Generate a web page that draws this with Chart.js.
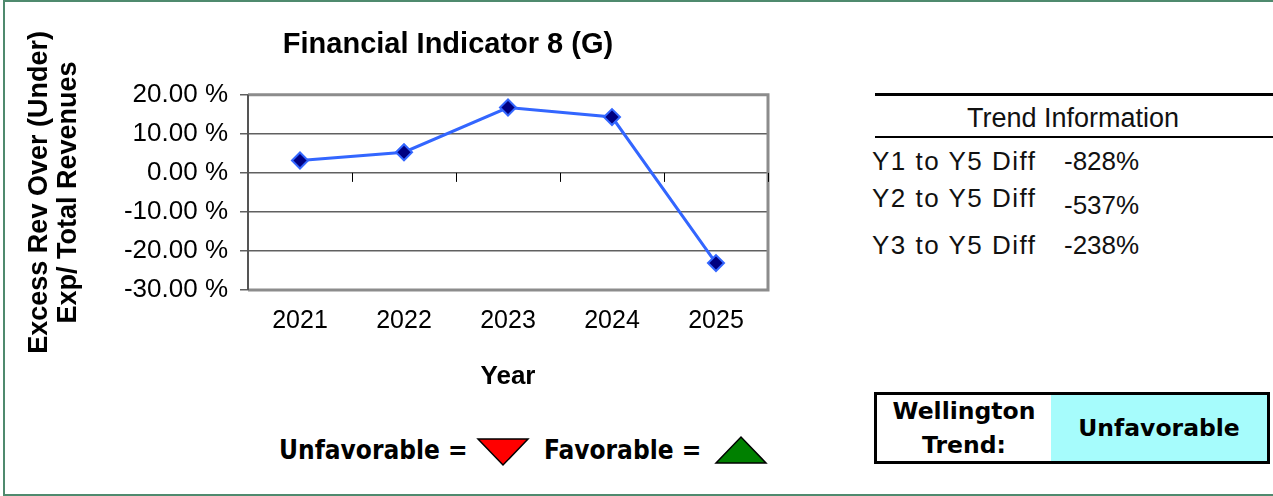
<!DOCTYPE html>
<html>
<head>
<meta charset="utf-8">
<script src="https://cdn.jsdelivr.net/npm/chart.js@4/dist/chart.umd.min.js"></script>
<style>
  html, body { margin: 0; padding: 0; background: #fff; }
  body { width: 1273px; height: 496px; position: relative; overflow: hidden; font-family: "Liberation Sans", Arial, sans-serif; }
  #frame { position: absolute; left: 3px; top: 0; width: 1275px; height: 492px; border-left: 2px solid #4f8a6e; border-top: 2px solid #4f8a6e; border-bottom: 2px solid #4f8a6e; }
  #wrap { position: absolute; left: 0; top: 0; width: 800px; height: 400px; }
  .abs { position: absolute; white-space: nowrap; }
  .rule { position: absolute; left: 875px; width: 398px; background: #000; }
  .trend { font-size: 26px; line-height: 30px; color: #111; }
  .legend { font-family: "DejaVu Sans Condensed", "DejaVu Sans", sans-serif; font-weight: bold; font-size: 26px; line-height: 30px; color: #000; }
  #box { position: absolute; left: 874px; top: 392px; width: 390px; height: 66px; border: 3px solid #000; display: flex; }
  #box div { display: flex; align-items: center; justify-content: center; text-align: center; font-family: "DejaVu Sans", sans-serif; font-weight: bold; font-size: 23.5px; line-height: 34px; }
</style>
</head>
<body>
<div id="frame"></div>
<div id="wrap"><canvas id="c" width="800" height="400"></canvas></div>

<div class="rule" style="top:93px;height:3px"></div>
<div class="abs trend" style="left:967px;top:103px;font-size:27px">Trend Information</div>
<div class="rule" style="top:136px;height:2px"></div>
<div id="rows"></div>

<div class="abs legend" style="left:279px;top:435px">Unfavorable =</div>
<svg class="abs" style="left:476px;top:437px" width="54" height="30"><polygon points="2,2 52,2 27,28" fill="#ff0000" stroke="#000" stroke-width="1.5"/></svg>
<div class="abs legend" style="left:544px;top:435px">Favorable =</div>
<svg class="abs" style="left:714px;top:435px" width="54" height="30"><polygon points="2,28 52,28 27,2" fill="#008000" stroke="#000" stroke-width="1.5"/></svg>

<div id="box">
  <div style="width:174px;background:#fff">Wellington<br>Trend:</div>
  <div style="flex:1;background:#a6fcfc">Unfavorable</div>
</div>

<script>
const years = ["2021", "2022", "2023", "2024", "2025"];
const ratio = [3.17, 5.29, 16.74, 14.3, -23.1];
const yTicks = [-30, -20, -10, 0, 10, 20];
const trendLabels = ["Y1 to Y5 Diff", "Y2 to Y5 Diff", "Y3 to Y5 Diff"];
const trendValues = ["-828%", "-537%", "-238%"];
const trendTops = [[146, 146], [183, 190], [230, 230]];

const rows = document.getElementById("rows");
trendLabels.forEach((t, i) => {
  rows.insertAdjacentHTML("beforeend",
    `<div class="abs trend" style="left:872px;top:${trendTops[i][0]}px;letter-spacing:1.5px">${t}</div>` +
    `<div class="abs trend" style="left:1064px;top:${trendTops[i][1]}px">${trendValues[i]}</div>`);
});

// title is centred over the whole chart block, not only the canvas
const titleShift = {
  id: "titleShift",
  afterLayout(chart) {
    const t = chart.titleBlock;
    if (t) { t.left = 0; t.right = 896; t.width = 896; }
  }
};

// plot frame + little ticks on the zero line between categories
const frameAndTicks = {
  id: "frameAndTicks",
  afterDatasetsDraw(chart) {
    const { ctx, chartArea: a, scales: { x, y } } = chart;
    ctx.save();
    ctx.strokeStyle = "#8c8c8c";
    ctx.lineWidth = 3;
    ctx.beginPath();
    ctx.moveTo(a.left, a.top);
    ctx.lineTo(a.right, a.top);
    ctx.lineTo(a.right, a.bottom);
    ctx.lineTo(a.left, a.bottom);
    ctx.stroke();
    ctx.strokeStyle = "#555";
    ctx.lineWidth = 2;
    ctx.beginPath();
    ctx.moveTo(a.left, a.top);
    ctx.lineTo(a.left, a.bottom);
    ctx.stroke();
    const y0 = y.getPixelForValue(0);
    ctx.strokeStyle = "#000";
    ctx.lineWidth = 1;
    for (let k = 1; k <= years.length; k++) {
      const px = Math.round(x.getPixelForValue(k - 0.5)) + 0.5;
      ctx.beginPath();
      ctx.moveTo(px, y0);
      ctx.lineTo(px, y0 + 9);
      ctx.stroke();
    }
    ctx.restore();
  }
};

new Chart(document.getElementById("c"), {
  type: "line",
  data: {
    labels: years,
    datasets: [{
      data: ratio,
      borderColor: "#3366ff",
      borderWidth: 3,
      pointStyle: "rectRot",
      pointRadius: 8,
      pointBackgroundColor: "#000080",
      pointBorderColor: "#3366ff",
      pointBorderWidth: 2,
      tension: 0
    }]
  },
  options: {
    responsive: false,
    animation: false,
    layout: { padding: { left: 0, right: 32, top: 0, bottom: 0 } },
    plugins: {
      legend: { display: false },
      tooltip: { enabled: false },
      title: {
        display: true,
        text: "Financial Indicator 8 (G)",
        color: "#000",
        font: { family: "Liberation Sans", size: 29, weight: "bold" },
        padding: { top: 28, bottom: 32 }
      }
    },
    scales: {
      x: {
        offset: true,
        afterFit: s => { s.height = 110; },
        grid: { display: false, drawTicks: false },
        border: { display: false },
        ticks: { color: "#000", padding: 16, font: { family: "Liberation Sans", size: 25 } },
        title: {
          display: true, text: "Year", color: "#000",
          font: { family: "Liberation Sans", size: 26, weight: "bold" },
          padding: { top: 0, bottom: 8 }
        }
      },
      y: {
        min: -30, max: 20,
        afterBuildTicks: s => { s.ticks = yTicks.map(v => ({ value: v })); },
        afterFit: s => { s.width = 248; },
        grid: { color: "#606060", lineWidth: 1.5, tickLength: 8, drawTicks: true },
        border: { display: false },
        ticks: {
          color: "#000", padding: 12,
          font: { family: "Liberation Sans", size: 26 },
          callback: v => v.toFixed(2) + " %"
        },
        title: {
          display: true,
          text: ["Excess Rev Over (Under)", "Exp/ Total Revenues"],
          color: "#000",
          font: { family: "Liberation Sans", size: 27, weight: "bold", lineHeight: 1.04 },
          padding: { top: 26, bottom: 0 }
        }
      }
    }
  },
  plugins: [titleShift, frameAndTicks]
});
</script>
</body>
</html>
